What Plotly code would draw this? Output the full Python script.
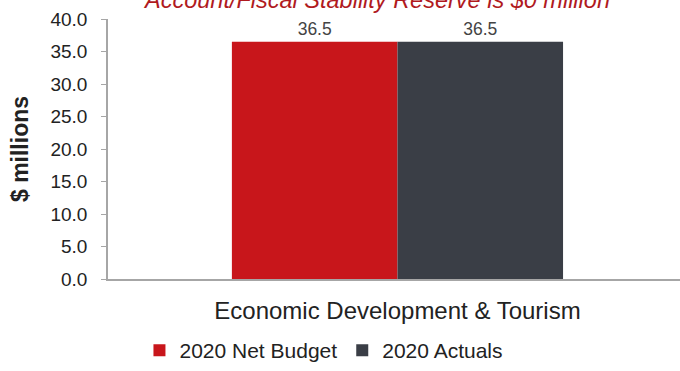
import plotly.graph_objects as go

categories = ["Economic Development & Tourism"]
net_budget = [36.5]
actuals = [36.5]
series_names = ["2020 Net Budget", "2020 Actuals"]
y_ticks = [0, 5, 10, 15, 20, 25, 30, 35, 40]
title_text = "Account/Fiscal Stability Reserve is $0 million"

RED = "#C8161B"
DARK = "#3A3E46"
FONT = "Liberation Sans, Arial, sans-serif"

fig = go.Figure()
for name, vals, col in [(series_names[0], net_budget, RED), (series_names[1], actuals, DARK)]:
    fig.add_trace(go.Bar(
        x=categories, y=vals, name=name,
        marker=dict(color=col, line=dict(width=0)),
        text=[f"{v:.1f}" for v in vals], textposition="outside",
        textfont=dict(size=17.5, color="#444444", family=FONT),
        cliponaxis=False,
    ))

fig.update_layout(
    width=680, height=371,
    margin=dict(l=108, r=0, t=19, b=88),
    paper_bgcolor="white", plot_bgcolor="white",
    barmode="group", bargap=0.428, bargroupgap=0,
    font=dict(family=FONT, color="#222222"),
    showlegend=True,
    legend=dict(orientation="h", x=0.055, y=-0.276, xanchor="left", yanchor="middle",
                font=dict(size=21, color="#222222"), itemclick=False,
                itemwidth=30, tracegroupgap=0),
    xaxis=dict(type="category", range=[-0.5, 0.488], showline=True, linecolor="#A6A6A6",
               linewidth=1.5, ticks="", tickfont=dict(size=24, color="#222222"),
               showgrid=False, zeroline=False, ticklabelstandoff=9),
    yaxis=dict(range=[0, 40], tickvals=y_ticks, tickformat=".1f", showline=True,
               linecolor="#A6A6A6", linewidth=1.5, ticks="outside", ticklen=5,
               tickcolor="#A6A6A6", tickfont=dict(size=19, color="#222222"),
               showgrid=False, zeroline=False, ticklabelstandoff=10,
               title=dict(text="<b>$ millions</b>", font=dict(size=23, color="#222222"),
                          standoff=15)),
    annotations=[dict(text=f"<i>{title_text}</i>", xref="paper", yref="paper",
                      x=0.469, y=1.075, xanchor="center", yanchor="middle",
                      showarrow=False, font=dict(size=23.5, color="#B01A1E", family=FONT))],
)

fig.write_html("out.html")
